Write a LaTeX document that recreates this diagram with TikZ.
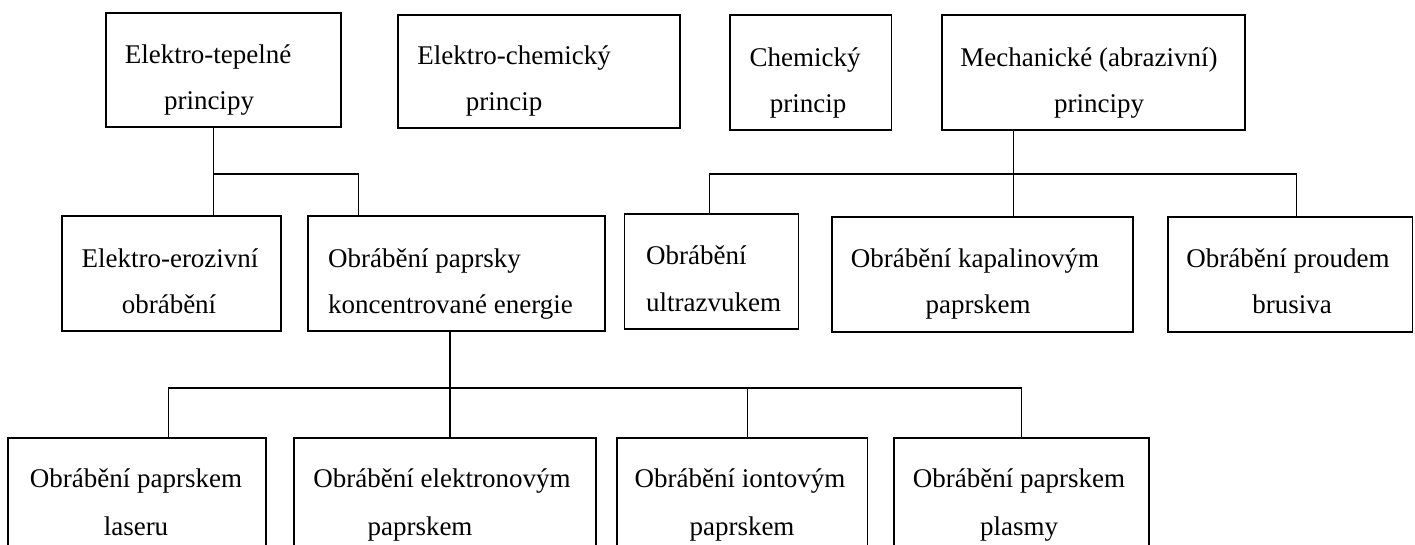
\documentclass[tikz,border=0pt]{standalone}
\usepackage{fontspec}
\setmainfont{Liberation Serif}
\usetikzlibrary{fit}
\begin{document}
\begin{tikzpicture}[x=1pt,y=-1pt,
  box/.style={draw=black,line width=1.8pt,inner sep=0pt,rectangle},
  link/.style={draw=black,line width=1.5pt},
  txt/.style={anchor=base,inner sep=0pt,font=\fontsize{27}{32}\selectfont},
  txtl/.style={anchor=base west,inner sep=0pt,font=\fontsize{27}{32}\selectfont}]
\path[use as bounding box] (0,0) rectangle (1415,545);
\clip (0,0) rectangle (1415,545);
% top row
\node[box,fit={(105.6,13) (341.1,127)}] (A) {};
\node[box,fit={(398,15) (680,128)}] (B) {};
\node[box,fit={(730,15) (891.5,130)}] (C) {};
\node[box,fit={(941.7,15) (1245,130)}] (D) {};
% second row
\node[box,fit={(62,216) (281,331)}] (E) {};
\node[box,fit={(308,216) (604.7,331)}] (F) {};
\node[box,fit={(624.4,214) (798.5,329)}] (G) {};
\node[box,fit={(832.3,217) (1132.7,332)}] (H) {};
\node[box,fit={(1167.6,217) (1412.4,332)}] (I) {};
% third row
\node[box,fit={(8.3,438) (266.3,570)}] (J) {};
\node[box,fit={(293.8,438) (596,570)}] (K) {};
\node[box,fit={(616.6,438) (867.4,570)}] (L) {};
\node[box,fit={(894.3,438) (1149.2,570)}] (M) {};
% texts
\node[txt] (A1) at (208,64) {Elektro-tepelné};
\node[txt] (A2) at (209,110) {principy};
\node[txt] (B1) at (514,65) {Elektro-chemický};
\node[txt] (B2) at (504,111) {princip};
\node[txt] (C1) at (805,67) {Chemický};
\node[txt] (C2) at (808,113) {princip};
\node[txt] (D1) at (1089,67) {Mechanické (abrazivní)};
\node[txt] (D2) at (1099,113) {principy};
\node[txt] (E1) at (170,267) {Elektro-erozivní};
\node[txt] (E2) at (169,313) {obrábění};
\node[txtl] (F1) at (328,267) {Obrábění paprsky};
\node[txtl] (F2) at (328,313) {koncentrované energie};
\node[txtl] (G1) at (646,265) {Obrábění};
\node[txtl] (G2) at (646,311) {ultrazvukem};
\node[txt] (H1) at (975,267) {Obrábění kapalinovým};
\node[txt] (H2) at (978,313) {paprskem};
\node[txt] (I1) at (1288,267) {Obrábění proudem};
\node[txt] (I2) at (1292,313) {brusiva};
\node[txt] (J1) at (136,487) {Obrábění paprskem};
\node[txt] (J2) at (136,535) {laseru};
\node[txt] (K1) at (442,487) {Obrábění elektronovým};
\node[txt] (K2) at (420,535) {paprskem};
\node[txt] (L1) at (740,487) {Obrábění iontovým};
\node[txt] (L2) at (742,535) {paprskem};
\node[txt] (M1) at (1019,487) {Obrábění paprskem};
\node[txt] (M2) at (1019,535) {plasmy};
% junctions
\coordinate (jA) at (213.5,174);
\coordinate (jD) at (1013.3,174);
\coordinate (jF) at (450,388);
% connectors
\draw[link] (A.south -| jA) -- (jA) -- (jA |- E.north);
\draw[link] (jA) -- (358.6,174) coordinate (jAF) -- (jAF |- F.north);
\draw[link] (D.south -| jD) -- (jD) -- (jD |- H.north);
\draw[link] (jD) -- (709.5,174) coordinate (jDG) -- (jDG |- G.north);
\draw[link] (jD) -- (1296.5,174) coordinate (jDI) -- (jDI |- I.north);
\draw[link] (F.south -| jF) -- (jF) -- (jF |- K.north);
\draw[link] (jF) -- (168.5,388) coordinate (jFJ) -- (jFJ |- J.north);
\draw[link] (jF) -- (1021.5,388) coordinate (jFM) -- (jFM |- M.north);
\draw[link] (747.4,388) coordinate (jFL) -- (jFL |- L.north);
\end{tikzpicture}
\end{document}
